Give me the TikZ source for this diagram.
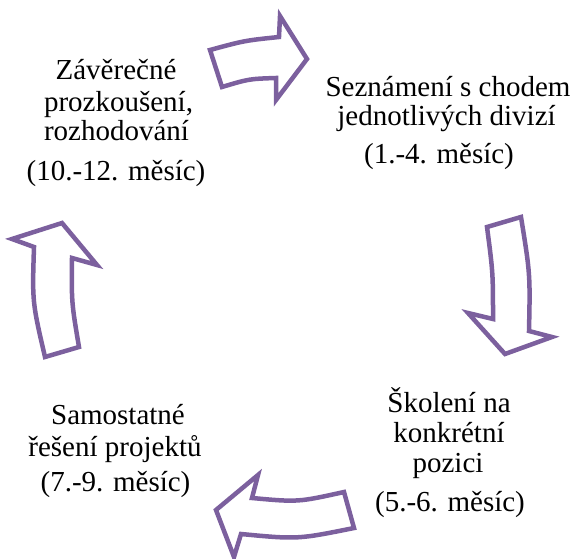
\documentclass[tikz,border=0pt]{standalone}
\usepackage{fontspec}
\setmainfont{Liberation Serif}
\definecolor{arrowpurple}{RGB}{124,96,158}
\tikzset{
  cyclearrow/.style={draw=arrowpurple, line width=4.5bp, fill=white, line join=miter, miter limit=10},
  txt/.style={anchor=base, inner sep=0pt, font=\fontsize{29bp}{33bp}\selectfont, text=black}
}
\begin{document}
\begin{tikzpicture}[x=1bp, y=-1bp]
\useasboundingbox (0,0) rectangle (575,559);
% top arrow (pointing right)
\draw[cyclearrow] (210,50) .. controls (244.5,40.6) .. (279,37) -- (280,16) -- (307,59) -- (276,100) -- (276,78) .. controls (249,78.9) .. (222,87) -- cycle;
% right arrow (pointing down)
\draw[cyclearrow] (487,227) -- (521,217) .. controls (530.2,274) .. (529,331) -- (552,337) -- (505,354) -- (468,313) -- (493,319) .. controls (493,273) .. cycle;
% bottom arrow (pointing left)
\draw[cyclearrow] (344,492) -- (354,528) .. controls (297.5,539.4) .. (241,534) -- (234,557) -- (216,510) -- (258,475) -- (252,498) .. controls (298,502.2) .. cycle;
% left arrow (pointing up)
\draw[cyclearrow] (45,357) -- (79,347) .. controls (71.5,302.5) .. (72,258) -- (97,265) -- (62,223) -- (12,239) -- (34,247) .. controls (32.2,302) .. cycle;
% texts
\node[txt] (tl1) at (116,79.5) {Závěrečné};
\node[txt] (tl2) at (118.5,111.5) {prozkoušení,};
\node[txt] (tl3) at (116.5,140.5) {rozhodování};
\node[txt] (tlm) at (116,180.5) {(10.-12. měsíc)};
\node[txt] (tr1) at (448,96.5) {Seznámení s chodem};
\node[txt] (tr2) at (446.5,126) {jednotlivých divizí};
\node[txt] (trm) at (439,163.5) {(1.-4. měsíc)};
\node[txt] (br1) at (449,412) {Školení na};
\node[txt] (br2) at (449,442.5) {konkrétní};
\node[txt] (br3) at (448,472) {pozici};
\node[txt] (brm) at (450,511) {(5.-6. měsíc)};
\node[txt] (bl1) at (118,424.5) {Samostatné};
\node[txt] (bl2) at (115,456.5) {řešení projektů};
\node[txt] (blm) at (115.5,491.5) {(7.-9. měsíc)};
\end{tikzpicture}
\end{document}
